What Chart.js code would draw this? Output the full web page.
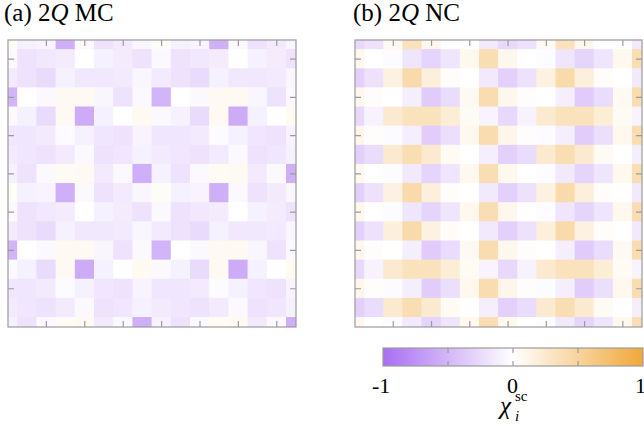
<!DOCTYPE html>
<html>
<head>
<meta charset="utf-8">
<script src="https://cdn.jsdelivr.net/npm/chart.js@4.4.0/dist/chart.umd.min.js"></script>
<style>
  html, body { margin: 0; padding: 0; background: #fff; }
  body { position: relative; width: 644px; height: 426px; overflow: hidden;
         font-family: 'Liberation Serif', 'DejaVu Serif', serif; color: #000; }
  canvas { position: absolute; }
  .title { position: absolute; font-size: 25px; line-height: 25px; white-space: nowrap; }
  .lab { position: absolute; font-size: 22px; line-height: 22px; white-space: nowrap; }
  .sym { position: absolute; font-size: 25px; line-height: 25px; white-space: nowrap; font-style: italic; }
  .small { position: absolute; font-size: 15px; line-height: 15px; white-space: nowrap; }
</style>
</head>
<body>
<div class="title" style="left:4px; top:0px">(a) 2<i>Q</i> MC</div>
<div class="title" style="left:353px; top:0px">(b) 2<i>Q</i> NC</div>

<canvas id="chart-mc" width="310" height="310" style="left:0; top:30px"></canvas>
<canvas id="chart-nc" width="304" height="310" style="left:340px; top:30px"></canvas>
<canvas id="chart-bar" width="271" height="30" style="left:373px; top:340px"></canvas>

<div class="lab" style="left:372px; top:375px">-1</div>
<div class="lab" style="left:507px; top:375px">0</div>
<div class="lab" style="left:635px; top:375px">1</div>
<div class="sym" style="left:500px; top:393px">χ</div>
<div class="small" style="left:515px; top:389px">sc</div>
<div class="small" style="left:515px; top:409px"><i>i</i></div>

<script>
// 格子点 (0..15)、目盛り
const sites = [0, 1, 2, 3, 4, 5, 6, 7, 8, 9, 10, 11, 12, 13, 14, 15];
const tickValues = [2, 4, 6, 8, 10, 12, 14];

// (a) 2Q MC : 上の行から
const mcValues = [
  [0.04, -0.10, -0.08, -0.55, -0.05, -0.20, -0.14, -0.06, 0.04, -0.10, -0.08, -0.55, -0.05, -0.20, -0.14, -0.06],
  [-0.05, -0.20, -0.16, -0.13, 0.00, -0.10, -0.13, -0.20, -0.05, -0.20, -0.16, -0.13, 0.00, -0.10, -0.13, -0.20],
  [-0.14, -0.20, -0.25, -0.10, -0.16, -0.16, -0.14, -0.06, -0.14, -0.20, -0.25, -0.10, -0.16, -0.16, -0.14, -0.06],
  [-0.52, 0.00, -0.05, 0.06, 0.06, -0.06, -0.20, -0.05, -0.52, 0.00, -0.05, 0.06, 0.06, -0.06, -0.20, -0.05],
  [-0.05, -0.10, -0.25, 0.06, -0.58, -0.10, 0.00, 0.07, -0.05, -0.10, -0.25, 0.06, -0.58, -0.10, 0.00, 0.07],
  [-0.17, -0.17, -0.14, -0.03, -0.10, -0.17, -0.20, -0.08, -0.17, -0.17, -0.14, -0.03, -0.10, -0.17, -0.20, -0.08],
  [-0.14, -0.17, -0.20, -0.14, -0.05, -0.20, -0.17, -0.10, -0.14, -0.17, -0.20, -0.14, -0.05, -0.20, -0.17, -0.10],
  [-0.10, -0.20, -0.05, 0.05, 0.06, -0.14, -0.05, -0.55, -0.10, -0.20, -0.05, 0.05, 0.06, -0.14, -0.05, -0.55],
  [0.04, -0.10, -0.08, -0.55, -0.05, -0.20, -0.14, -0.06, 0.04, -0.10, -0.08, -0.55, -0.05, -0.20, -0.14, -0.06],
  [-0.05, -0.20, -0.16, -0.13, 0.00, -0.10, -0.13, -0.20, -0.05, -0.20, -0.16, -0.13, 0.00, -0.10, -0.13, -0.20],
  [-0.14, -0.20, -0.25, -0.10, -0.16, -0.16, -0.14, -0.06, -0.14, -0.20, -0.25, -0.10, -0.16, -0.16, -0.14, -0.06],
  [-0.52, 0.00, -0.05, 0.06, 0.06, -0.06, -0.20, -0.05, -0.52, 0.00, -0.05, 0.06, 0.06, -0.06, -0.20, -0.05],
  [-0.05, -0.10, -0.25, 0.06, -0.58, -0.10, 0.00, 0.07, -0.05, -0.10, -0.25, 0.06, -0.58, -0.10, 0.00, 0.07],
  [-0.17, -0.17, -0.14, -0.03, -0.10, -0.17, -0.20, -0.08, -0.17, -0.17, -0.14, -0.03, -0.10, -0.17, -0.20, -0.08],
  [-0.14, -0.17, -0.20, -0.14, -0.05, -0.20, -0.17, -0.10, -0.14, -0.17, -0.20, -0.14, -0.05, -0.20, -0.17, -0.10],
  [-0.10, -0.20, -0.05, 0.05, 0.06, -0.14, -0.05, -0.55, -0.10, -0.20, -0.05, 0.05, 0.06, -0.14, -0.05, -0.55],
];

// (b) 2Q NC : 上の行から
const ncValues = [
  [-0.27, -0.21, 0.06, 0.33, 0.09, 0.00, 0.00, -0.15, -0.27, -0.21, 0.06, 0.33, 0.09, 0.00, 0.00, -0.15],
  [0.09, 0.00, -0.03, -0.18, -0.30, -0.18, 0.08, 0.38, 0.09, 0.00, -0.03, -0.18, -0.30, -0.18, 0.08, 0.38],
  [-0.32, -0.21, 0.15, 0.42, 0.18, 0.03, 0.00, -0.15, -0.32, -0.21, 0.15, 0.42, 0.18, 0.03, 0.00, -0.15],
  [0.09, 0.02, 0.00, -0.12, -0.36, -0.24, 0.06, 0.40, 0.09, 0.02, 0.00, -0.12, -0.36, -0.24, 0.06, 0.40],
  [-0.27, -0.09, 0.24, 0.33, 0.33, 0.21, 0.05, -0.08, -0.27, -0.09, 0.24, 0.33, 0.33, 0.21, 0.05, -0.08],
  [0.10, 0.02, -0.03, -0.12, -0.35, -0.22, 0.08, 0.40, 0.10, 0.02, -0.03, -0.12, -0.35, -0.22, 0.08, 0.40],
  [-0.32, -0.24, 0.24, 0.38, 0.24, 0.05, 0.00, -0.12, -0.32, -0.24, 0.24, 0.38, 0.24, 0.05, 0.00, -0.12],
  [0.08, 0.00, -0.03, -0.15, -0.30, -0.18, 0.08, 0.38, 0.08, 0.00, -0.03, -0.15, -0.30, -0.18, 0.08, 0.38],
  [-0.32, -0.21, 0.15, 0.42, 0.18, 0.03, 0.00, -0.15, -0.32, -0.21, 0.15, 0.42, 0.18, 0.03, 0.00, -0.15],
  [0.09, 0.00, -0.03, -0.18, -0.30, -0.18, 0.08, 0.38, 0.09, 0.00, -0.03, -0.18, -0.30, -0.18, 0.08, 0.38],
  [-0.32, -0.21, 0.18, 0.42, 0.15, 0.03, 0.00, -0.15, -0.32, -0.21, 0.18, 0.42, 0.15, 0.03, 0.00, -0.15],
  [0.09, 0.02, 0.00, -0.12, -0.36, -0.24, 0.06, 0.40, 0.09, 0.02, 0.00, -0.12, -0.36, -0.24, 0.06, 0.40],
  [-0.27, -0.09, 0.24, 0.33, 0.33, 0.21, 0.05, -0.08, -0.27, -0.09, 0.24, 0.33, 0.33, 0.21, 0.05, -0.08],
  [0.10, 0.02, -0.03, -0.12, -0.35, -0.22, 0.08, 0.40, 0.10, 0.02, -0.03, -0.12, -0.35, -0.22, 0.08, 0.40],
  [-0.32, -0.24, 0.24, 0.38, 0.24, 0.05, 0.00, -0.12, -0.32, -0.24, 0.24, 0.38, 0.24, 0.05, 0.00, -0.12],
  [0.08, 0.00, -0.03, -0.15, -0.30, -0.18, 0.08, 0.38, 0.08, 0.00, -0.03, -0.15, -0.30, -0.18, 0.08, 0.38],
];

// カラーバー
const cbStops = [-1, 0, 1];
const cbColors = [[168, 110, 242], [255, 255, 255], [240, 168, 56]];
const cbTicks = [-0.5, 0, 0.5];

const frameColor = '#9c9c9c';

// 値 -> 色 (線形補間)
function valueColor(v) {
  const k = v < cbStops[1] ? 0 : 1;
  const t = (v - cbStops[k]) / (cbStops[k + 1] - cbStops[k]);
  const c = cbColors[k].map((c0, n) => Math.round(c0 + (cbColors[k + 1][n] - c0) * t));
  return `rgb(${c[0]}, ${c[1]}, ${c[2]})`;
}

// 1セル分の半径 (rect は一辺 = radius * √2)
function cellRadius(chart) {
  const { x, y } = chart.scales;
  const w = Math.abs(x.getPixelForValue(1) - x.getPixelForValue(0));
  const h = Math.abs(y.getPixelForValue(1) - y.getPixelForValue(0));
  return (Math.max(w, h) + 0.8) / Math.SQRT2;
}

// 枠と内向きの目盛り
const framePlugin = {
  id: 'frame',
  afterDatasetsDraw(chart) {
    const { ctx, chartArea: a, scales: { x, y } } = chart;
    ctx.save();
    ctx.strokeStyle = frameColor;
    ctx.lineWidth = 1.2;
    ctx.beginPath();
    tickValues.forEach((t) => {
      const px = x.getPixelForValue(t);
      const py = y.getPixelForValue(t);
      ctx.moveTo(px, a.top); ctx.lineTo(px, a.top + 6);
      ctx.moveTo(px, a.bottom); ctx.lineTo(px, a.bottom - 6);
      ctx.moveTo(a.left, py); ctx.lineTo(a.left + 6, py);
      ctx.moveTo(a.right, py); ctx.lineTo(a.right - 6, py);
    });
    ctx.stroke();
    ctx.strokeRect(a.left, a.top, a.right - a.left, a.bottom - a.top);
    ctx.restore();
  },
};

function heatmap(id, values, padding) {
  const points = [];
  values.forEach((row, j) => {
    row.forEach((v, i) => {
      points.push({ x: sites[i], y: sites[sites.length - 1 - j], v });
    });
  });
  new Chart(document.getElementById(id).getContext('2d'), {
    type: 'scatter',
    data: {
      datasets: [{
        data: points,
        pointStyle: 'rect',
        borderWidth: 0,
        clip: 0,
        backgroundColor: (ctx) => valueColor(ctx.raw.v),
        pointRadius: (ctx) => cellRadius(ctx.chart),
      }],
    },
    options: {
      responsive: false,
      animation: false,
      events: [],
      layout: { padding },
      scales: {
        x: { type: 'linear', min: sites[0], max: sites[sites.length - 1], display: false },
        y: { type: 'linear', min: sites[0], max: sites[sites.length - 1], display: false },
      },
      plugins: { legend: { display: false }, tooltip: { enabled: false } },
    },
    plugins: [framePlugin],
  });
}

heatmap('chart-mc', mcValues, { left: 8, top: 10, right: 14, bottom: 13 });
heatmap('chart-nc', ncValues, { left: 15, top: 10, right: 2, bottom: 13 });

// カラーバー
new Chart(document.getElementById('chart-bar').getContext('2d'), {
  type: 'scatter',
  data: { datasets: [] },
  options: {
    responsive: false,
    animation: false,
    events: [],
    layout: { padding: { left: 10, top: 8, right: 1, bottom: 4 } },
    scales: {
      x: { type: 'linear', min: cbStops[0], max: cbStops[2], display: false },
      y: { type: 'linear', min: 0, max: 1, display: false },
    },
    plugins: { legend: { display: false }, tooltip: { enabled: false } },
  },
  plugins: [{
    id: 'colorbar',
    beforeDatasetsDraw(chart) {
      const { ctx, chartArea: a, scales: { x } } = chart;
      const x0 = x.getPixelForValue(cbStops[0]);
      const x1 = x.getPixelForValue(cbStops[cbStops.length - 1]);
      const grad = ctx.createLinearGradient(x0, 0, x1, 0);
      cbStops.forEach((v, k) => {
        grad.addColorStop((x.getPixelForValue(v) - x0) / (x1 - x0), `rgb(${cbColors[k].join(',')})`);
      });
      ctx.save();
      ctx.fillStyle = grad;
      ctx.fillRect(a.left, a.top, a.right - a.left, a.bottom - a.top);
      ctx.strokeStyle = frameColor;
      ctx.lineWidth = 1.2;
      ctx.beginPath();
      cbTicks.forEach((t) => {
        const px = x.getPixelForValue(t);
        ctx.moveTo(px, a.top); ctx.lineTo(px, a.top + 5);
        ctx.moveTo(px, a.bottom); ctx.lineTo(px, a.bottom - 5);
      });
      ctx.stroke();
      ctx.strokeRect(a.left, a.top, a.right - a.left, a.bottom - a.top);
      ctx.restore();
    },
  }],
});
</script>
</body>
</html>
